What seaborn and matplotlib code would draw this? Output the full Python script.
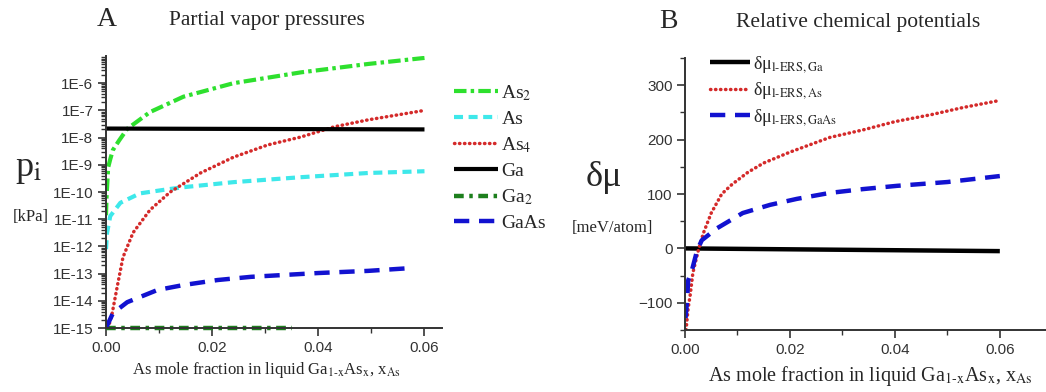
import numpy as np
import pandas as pd
import matplotlib
matplotlib.use("Agg")
import matplotlib.pyplot as plt
import seaborn as sns
from matplotlib.ticker import FixedLocator, MultipleLocator, LogLocator, NullFormatter

# ---------------- data: panel A (partial vapor pressures, kPa) ----------------
as2_x = [0.0, 0.0001, 0.0004, 0.0008, 0.0013, 0.0025, 0.004, 0.0083, 0.0146, 0.024, 0.0367, 0.0494, 0.060]
as2_p = [1.4e-11, 6.3e-11, 7.9e-10, 1.6e-9, 3.5e-9, 8.0e-9, 2.1e-8, 8.7e-8, 3.2e-7, 1.0e-6, 2.5e-6, 5.1e-6, 8.5e-6]

as_x = [0.0, 0.0002, 0.0008, 0.0027, 0.0064, 0.0115, 0.0146, 0.024, 0.0367, 0.0494, 0.060]
as_p = [7.9e-13, 3.2e-12, 1.3e-11, 4.0e-11, 8.9e-11, 1.25e-10, 1.5e-10, 2.3e-10, 3.5e-10, 5.0e-10, 5.8e-10]

as4_x = [0.0004, 0.0011, 0.0021, 0.0032, 0.0051, 0.0083, 0.0121, 0.0178, 0.024, 0.0305, 0.0367, 0.043, 0.0494, 0.060]
as4_p = [1.0e-15, 3.0e-15, 3.2e-14, 4.0e-13, 3.2e-12, 2.2e-11, 1.0e-10, 5.0e-10, 1.9e-9, 5.4e-9, 1.05e-8, 2.5e-8, 4.5e-8, 1.0e-7]

ga_x = [0.0, 0.060]
ga_p = [2.15e-8, 2.0e-8]

ga2_x = [0.0, 0.035]
ga2_p = [1.0e-15, 1.0e-15]

gaas_x = [0.0, 0.0013, 0.004, 0.0097, 0.0146, 0.021, 0.0273, 0.0335, 0.040, 0.0494, 0.0575]
gaas_p = [1.0e-15, 3.5e-15, 8.9e-15, 2.5e-14, 3.8e-14, 5.8e-14, 7.6e-14, 8.9e-14, 1.05e-13, 1.26e-13, 1.6e-13]

# ---------------- data: panel B (relative chemical potentials, meV/atom) ----------------
dmu_ga_x = [0.0, 0.060]
dmu_ga = [0.0, -5.0]

dmu_as_x = [0.0002, 0.0006, 0.001, 0.0015, 0.0025, 0.0035, 0.005, 0.007, 0.009, 0.012, 0.015, 0.020,
            0.0276, 0.034, 0.040, 0.047, 0.053, 0.060]
dmu_as = [-150, -110, -85, -45, -5, 28, 65, 100, 118, 140, 157, 177, 204, 218, 233, 246, 259, 272]

dmu_gaas_x = [0.0001, 0.0004, 0.0006, 0.0013, 0.0023, 0.0032, 0.0061, 0.011, 0.0162, 0.0213, 0.0276,
              0.0339, 0.0404, 0.050, 0.060]
dmu_gaas = [-128, -96, -59, -41, -4, 15, 37, 65, 80, 91, 102, 109, 115, 122, 133]

x_ticks = [0.00, 0.02, 0.04, 0.06]
x_tick_labels = ["0.00", "0.02", "0.04", "0.06"]
pA_ticks = [1e-15, 1e-14, 1e-13, 1e-12, 1e-11, 1e-10, 1e-9, 1e-8, 1e-7, 1e-6]
pA_tick_labels = ["1E-15", "1E-14", "1E-13", "1E-12", "1E-11", "1E-10", "1E-9", "1E-8", "1E-7", "1E-6"]
muB_ticks = [-100, 0, 100, 200, 300]

legend_A = ["As$_2$", "As", "As$_4$", "Ga", "Ga$_2$", "GaAs"]
legend_B = [r"δμ$_{\mathrm{l\text{-}ERS,Ga}}$", r"δμ$_{\mathrm{l\text{-}ERS,As}}$", r"δμ$_{\mathrm{l\text{-}ERS,GaAs}}$"]

# ---------------- styling ----------------
sns.set_style("ticks")
plt.rcParams["font.family"] = ["Liberation Sans", "DejaVu Sans"]
plt.rcParams["mathtext.fontset"] = "stix"
plt.rcParams["lines.scale_dashes"] = False
plt.rcParams["axes.edgecolor"] = "#333333"
plt.rcParams["xtick.color"] = "#333333"
plt.rcParams["ytick.color"] = "#333333"
SERIF = ["Liberation Serif", "DejaVu Serif"]

fig = plt.figure(figsize=(10.46, 3.92), dpi=100)
W, H = 1046, 392
axA = fig.add_axes([106 / W, 1 - 328 / H, (442 - 106) / W, (328 - 56) / H])
axB = fig.add_axes([685 / W, 1 - 330 / H, (1046 - 685) / W, (330 - 58) / H])

c_as2 = "#2ee02e"
c_as = "#3ee8ea"
c_as4 = "#d42a2a"
c_ga = "#000000"
c_ga2 = "#1d7f1d"
c_gaas = "#1212d0"

def add_line(ax, x, y, color, lw, dashes, label, cap="butt"):
    sns.lineplot(x=x, y=y, ax=ax, color=color, lw=lw, label=label, legend=False, sort=False)
    ln = ax.lines[-1]
    if dashes is not None:
        ln.set_dashes(dashes)
    ln.set_solid_capstyle("butt")
    ln.set_dash_capstyle(cap)
    return ln

DOT = (0.3, 3.3)
add_line(axA, as2_x, as2_p, c_as2, 3.0, (9, 3, 2.5, 3), legend_A[0])
add_line(axA, as_x, as_p, c_as, 3.0, (6.5, 4), legend_A[1])
add_line(axA, as4_x, as4_p, c_as4, 2.5, DOT, legend_A[2], cap="round")
add_line(axA, ga_x, ga_p, c_ga, 3.0, None, legend_A[3])
l_ga2 = add_line(axA, ga2_x, ga2_p, c_ga2, 3.2, (7, 4, 2.5, 4), legend_A[4])
l_ga2.set_clip_on(False)
add_line(axA, gaas_x, gaas_p, c_gaas, 3.2, (11, 7), legend_A[5])

axA.set_yscale("log")
axA.set_ylim(1e-15, 1e-5)
axA.set_xlim(0, 0.0633)
axA.yaxis.set_major_locator(FixedLocator(pA_ticks))
axA.set_yticklabels(pA_tick_labels)
axA.yaxis.set_minor_locator(LogLocator(base=10, subs=np.arange(2, 10), numticks=30))
axA.yaxis.set_minor_formatter(NullFormatter())

add_line(axB, dmu_ga_x, dmu_ga, c_ga, 3.2, None, legend_B[0])
add_line(axB, dmu_as_x, dmu_as, c_as4, 2.5, DOT, legend_B[1], cap="round")
add_line(axB, dmu_gaas_x, dmu_gaas, c_gaas, 3.2, (11, 7), legend_B[2])
axB.set_ylim(-150, 350)
axB.set_xlim(0, 0.0688)
axB.yaxis.set_major_locator(FixedLocator(muB_ticks))
axB.yaxis.set_minor_locator(MultipleLocator(50))

for ax in (axA, axB):
    sns.despine(ax=ax)
    ax.spines["left"].set_linewidth(1.4)
    ax.spines["bottom"].set_linewidth(1.4)
    ax.xaxis.set_major_locator(FixedLocator(x_ticks))
    ax.set_xticklabels(x_tick_labels)
    ax.xaxis.set_minor_locator(MultipleLocator(0.01))
    ax.tick_params(which="major", length=6, width=1.2, labelsize=11, pad=3)
    ax.tick_params(which="minor", length=3.5, width=1.0)
    ax.set_xlabel("")
    ax.set_ylabel("")

# legends
hA, lA = axA.get_legend_handles_labels()
legA = axA.legend(hA, lA, loc="upper left", bbox_to_anchor=(1.035, 0.90), frameon=False,
                  handlelength=2.3, handletextpad=0.15, labelspacing=0.38, borderpad=0, borderaxespad=0,
                  prop={"family": SERIF, "size": 14})
hB, lB = axB.get_legend_handles_labels()
legB = axB.legend(hB, lB, loc="upper left", bbox_to_anchor=(0.07, 1.015), frameon=False,
                  handlelength=2.2, handletextpad=0.15, labelspacing=0.3, borderpad=0, borderaxespad=0,
                  prop={"family": SERIF, "size": 13})

# titles and axis labels
def ftext(x, y, s, size, **kw):
    fig.text(x / W, 1 - y / H, s, fontsize=size, family=SERIF, ha="center", va="center", **kw)

ftext(107, 20, "A", 20)
ftext(267, 20, "Partial vapor pressures", 15.5)
ftext(668, 22, "B", 20)
ftext(858, 22, "Relative chemical potentials", 15.5)

ftext(29, 170, "p$_\\mathrm{i}$", 26)
ftext(31, 217, "[kPa]", 12)
ftext(604, 178, "δμ", 26)
ftext(612, 228, "[meV/atom]", 12)

ftext(266, 370, r"As mole fraction in liquid Ga$_{\mathrm{1\text{-}x}}$As$_\mathrm{x}$, x$_\mathrm{As}$", 12)
ftext(870, 376, r"As mole fraction in liquid Ga$_{\mathrm{1\text{-}x}}$As$_\mathrm{x}$, x$_\mathrm{As}$", 14.5)

fig.savefig("out.png", dpi=100)
